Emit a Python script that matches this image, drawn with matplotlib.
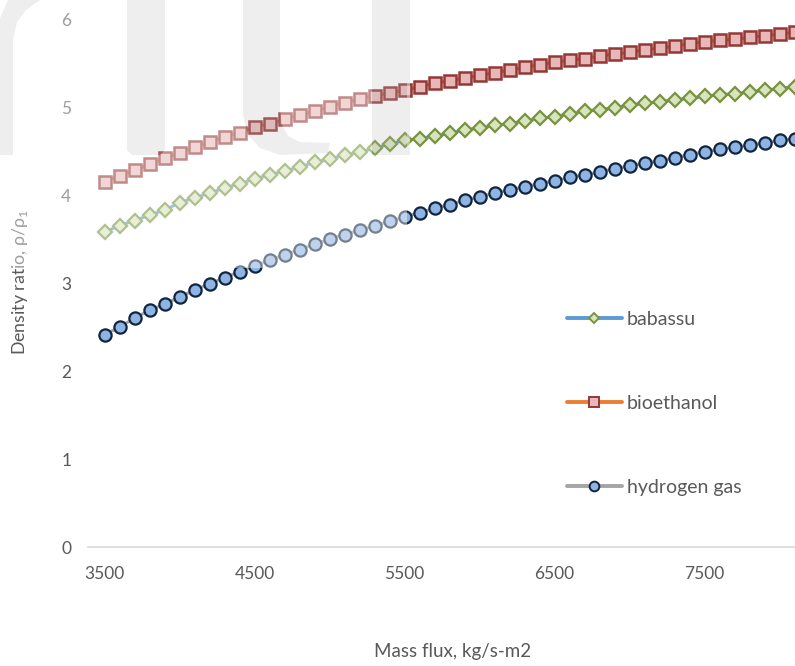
import numpy as np
import matplotlib
matplotlib.use("Agg")
import matplotlib.pyplot as plt
from matplotlib.lines import Line2D
from matplotlib.path import Path
from matplotlib.patches import PathPatch, Polygon

plt.rcParams['font.family'] = ['Lato', 'DejaVu Sans']
plt.rcParams['mathtext.fontset'] = 'custom'
plt.rcParams['mathtext.rm'] = 'Lato'

# ---------------- data ----------------
mass_flux = list(range(3500, 8101, 100))

babassu = [3.58, 3.65, 3.71, 3.77, 3.83, 3.91, 3.97, 4.02, 4.08, 4.13,
           4.18, 4.23, 4.27, 4.32, 4.37, 4.41, 4.45, 4.49, 4.53, 4.58,
           4.62, 4.64, 4.67, 4.70, 4.74, 4.76, 4.79, 4.81, 4.84, 4.87,
           4.89, 4.92, 4.95, 4.97, 4.99, 5.02, 5.04, 5.06, 5.08, 5.10,
           5.12, 5.14, 5.15, 5.17, 5.19, 5.21, 5.23]

bioethanol = [4.15, 4.22, 4.28, 4.35, 4.42, 4.48, 4.54, 4.60, 4.66, 4.71,
              4.77, 4.81, 4.86, 4.91, 4.95, 5.00, 5.05, 5.09, 5.13, 5.16,
              5.19, 5.23, 5.27, 5.30, 5.33, 5.36, 5.39, 5.42, 5.45, 5.48,
              5.51, 5.53, 5.55, 5.58, 5.60, 5.62, 5.65, 5.67, 5.69, 5.72,
              5.74, 5.76, 5.77, 5.79, 5.81, 5.83, 5.85]

hydrogen_gas = [2.41, 2.50, 2.60, 2.69, 2.76, 2.84, 2.92, 2.99, 3.06, 3.13,
                3.19, 3.26, 3.32, 3.38, 3.44, 3.50, 3.55, 3.60, 3.65, 3.70,
                3.75, 3.80, 3.85, 3.89, 3.94, 3.98, 4.02, 4.06, 4.09, 4.13,
                4.16, 4.20, 4.23, 4.26, 4.30, 4.33, 4.36, 4.39, 4.42, 4.46,
                4.49, 4.52, 4.54, 4.57, 4.59, 4.62, 4.64]

series_names = ["babassu", "bioethanol", "hydrogen gas"]
x_ticks = [3500, 4500, 5500, 6500, 7500]
y_ticks = [0, 1, 2, 3, 4, 5, 6]

# ---------------- figure ----------------
W, H = 795, 666
fig = plt.figure(figsize=(W / 100, H / 100), dpi=100)
ax = fig.add_axes([88 / W, 1 - 547 / H, 1 - 88 / W, 547 / H])
ax.set_xlim(3390, 8103)
ax.set_ylim(0, 6.216)

styles = [
    dict(color="#5b9bd5", marker="D", mfc="#d7e4bd", mec="#77933c"),
    dict(color="#ed7d31", marker="s", mfc="#e6b9b8", mec="#953735"),
    dict(color="#a5a5a5", marker="o", mfc="#8eb4e3", mec="#10253f"),
]
plot_ms = [6.8, 9.0, 8.8]
plot_mew = [1.6, 1.8, 1.6]
legend_ms = [5.0, 7.0, 7.0]

handles = []
for name, ys, st, ms, mew, lms in zip(series_names, [babassu, bioethanol, hydrogen_gas],
                                      styles, plot_ms, plot_mew, legend_ms):
    ax.plot(mass_flux, ys, lw=2.2, clip_on=False, ms=ms, mew=mew, **st)
    handles.append(Line2D([], [], lw=2.8, solid_capstyle='round', label=name,
                          ms=lms, mew=1.4, **st))

for s in ["top", "right", "left"]:
    ax.spines[s].set_visible(False)
ax.spines["bottom"].set_color("#d9d9d9")
ax.spines["bottom"].set_linewidth(1.2)

ax.set_xticks(x_ticks)
ax.set_xticklabels([str(v) for v in x_ticks])
ax.set_yticks(y_ticks)
ax.tick_params(axis="both", length=0, labelsize=12.5, labelcolor="#595959")
ax.tick_params(axis="x", pad=14)
ax.tick_params(axis="y", pad=12)

fig.text(453 / W, 1 - 652 / H, "Mass flux, kg/s-m2", ha="center", va="center",
         fontsize=13.5, color="#595959")
fig.text(20 / W, 1 - 282 / H, r"Density ratio, ρ/ρ$_{\mathregular{1}}$", ha="center",
         va="center", rotation=90, fontsize=12.8, color="#595959")

leg = fig.legend(handles=handles, loc="upper left",
                 bbox_to_anchor=(557 / W, 1 - 301 / H),
                 frameon=False, numpoints=1, handlelength=2.85, handletextpad=0.25,
                 labelspacing=3.45, borderpad=0, fontsize=14)
for t in leg.get_texts():
    t.set_color("#595959")

# ---------------- watermark overlay ----------------
def fig_pts(pts):
    return [(x / W, 1 - y / H) for x, y in pts]

rect = [(0, 0), (407, 0), (407, 268), (0, 268)]
letters = [
    [(0, 155), (13, 155), (13, 40), (17, 22), (26, 10), (40, 0), (8, 0), (0, 18)],
    [(127, 0), (165, 0), (165, 150), (160, 155), (132, 155), (127, 150)],
    [(243, 0), (280, 0), (280, 110), (282, 125), (288, 136), (300, 142), (330, 143),
     (328, 153), (280, 155), (260, 148), (248, 135), (243, 115)],
    [(372, 0), (410, 0), (410, 155), (372, 155)],
]

def signed_area(p):
    a = 0
    for i in range(len(p)):
        x1, y1 = p[i]
        x2, y2 = p[(i + 1) % len(p)]
        a += x1 * y2 - x2 * y1
    return a / 2

def closed_path(p, ccw):
    q = fig_pts(p)
    if (signed_area(q) > 0) != ccw:
        q = q[::-1]
    verts = q + [q[0]]
    codes = [Path.MOVETO] + [Path.LINETO] * (len(q) - 1) + [Path.CLOSEPOLY]
    return Path(verts, codes)

paths = [closed_path(rect, True)] + [closed_path(l, False) for l in letters]
overlay = PathPatch(Path.make_compound_path(*paths), facecolor="white", alpha=0.42,
                    edgecolor="none", transform=fig.transFigure, zorder=50)
fig.add_artist(overlay)
for l in letters:
    fig.add_artist(Polygon(fig_pts(l), closed=True, facecolor=(190 / 255,) * 3,
                           alpha=0.25, edgecolor="none", transform=fig.transFigure,
                           zorder=50))

fig.savefig("out.png", dpi=100)
